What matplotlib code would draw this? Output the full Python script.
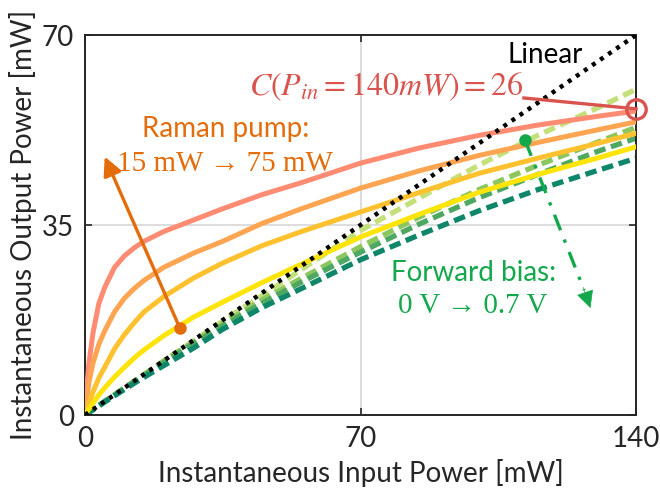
import matplotlib
matplotlib.use('Agg')
from matplotlib import pyplot as plt

# Data
# ===================================================================================================
p_in = [0, 0.5, 1, 2, 3.5, 5, 7.5, 10, 12.5, 15, 20, 27.5, 35, 45, 55, 70, 85, 100, 115, 130, 140]

# Raman pump curves (15 mW -> 75 mW), top to bottom
raman_75 = [0, 5.5, 9.5, 15, 20.5, 23.5, 27.2, 29.3, 30.8, 32, 33.8, 35.9, 38, 40.6, 42.8, 46.4, 49.2, 51.5, 53.4, 55, 56]
raman_55 = [0, 3.2, 6, 9.5, 13, 15.5, 19, 21.5, 23.3, 24.8, 27.2, 29.8, 32, 35.3, 38, 41.8, 45, 47.8, 50.2, 52.5, 54]
raman_35 = [0, 1.1, 2.2, 4.2, 6.8, 8.8, 12.2, 14.8, 17, 19, 21.8, 25.2, 28, 31.2, 33.8, 37.4, 41, 44.5, 47.3, 50, 51.9]
raman_15 = [0, 0.55, 1.1, 2.2, 3.7, 5.0, 7.0, 8.8, 10.5, 12.0, 14.6, 18.0, 20.8, 24.4, 27.8, 32.8, 37.0, 41.0, 44.3, 47.3, 49.4]

# Forward bias curves (0 V -> 0.7 V)
bias_0 = [0, 0.25, 0.5, 1, 1.75, 2.5, 3.75, 5, 6.25, 7.5, 10, 13.6, 17.3, 22, 26.8, 34, 40, 46, 51.5, 56.5, 60]
bias_1 = [0, 0.25, 0.5, 1, 1.75, 2.5, 3.7, 5, 6.2, 7.4, 9.9, 13.4, 16.8, 21.2, 25.2, 31, 36.5, 41.5, 46, 50.2, 53]
bias_2 = [0, 0.25, 0.5, 1, 1.7, 2.5, 3.7, 4.9, 6.1, 7.3, 9.7, 13.1, 16.4, 20.6, 24.5, 30, 35.2, 40, 44.3, 48.5, 51]
bias_3 = [0, 0.25, 0.5, 0.95, 1.65, 2.4, 3.55, 4.7, 5.85, 6.95, 9.1, 12.3, 15.8, 19.8, 23.3, 28.6, 33.2, 37.6, 41.5, 45, 47.3]

linear_x = [0, 140]
linear_y = [0, 70]

compression_value = 26
c_point = (140, 56.4)

raman_curves = [raman_75, raman_55, raman_35, raman_15]
raman_colors = ['#FF8C72', '#FFA552', '#FFC22E', '#FFE40A']
bias_curves = [bias_0, bias_1, bias_2, bias_3]
bias_colors = ['#C4E07A', '#8CC65E', '#4EA862', '#0E866A']

# Style
# ===================================================================================================
plt.rcParams['font.family'] = ['Lato', 'DejaVu Sans']
plt.rcParams['mathtext.fontset'] = 'stix'
plt.rcParams['axes.unicode_minus'] = False

fig = plt.figure(figsize=(6.6, 5.0), dpi=100)
ax = fig.add_axes([0.1288, 0.17, 0.835, 0.76])

# Curves
# ===================================================================================================
for y, c in zip(bias_curves, bias_colors):
    ax.plot(p_in, y, color=c, lw=3.8, linestyle=(0, (2.2, 1.1)), zorder=2)

for y, c in zip(raman_curves, raman_colors):
    ax.plot(p_in, y, color=c, lw=3.6, solid_capstyle='round', solid_joinstyle='round', zorder=3)

ax.plot(linear_x, linear_y, color='black', lw=3.2, linestyle=(0, (0.9, 1.3)), zorder=4)

# Axes setup
# ===================================================================================================
ax.set_xlim(0, 140)
ax.set_ylim(0, 70)
ax.set_xticks([0, 70, 140])
ax.set_yticks([0, 35, 70])
ax.grid(True, color='#DADADA', lw=1.3)
ax.set_axisbelow(True)
for s in ax.spines.values():
    s.set_color('#262626')
    s.set_linewidth(1.4)
ax.tick_params(direction='in', length=5, width=1.2, colors='#262626',
               top=True, right=True, labelsize=20, pad=8)
ax.set_xlabel('Instantaneous Input Power [mW]', fontsize=20, color='#262626', labelpad=5)
ax.set_ylabel('Instantaneous Output Power [mW]', fontsize=20, color='#262626', labelpad=3)

# Annotations
# ===================================================================================================
ax.text(117, 66.3, 'Linear', fontsize=20, ha='center', va='center', color='black', zorder=5)

red = '#D9534F'
ax.text(76.5, 60.4, r'$C(P_{in}=140mW)=%d$' % compression_value, fontsize=23,
        ha='center', va='center', color=red, zorder=5)
ax.plot([111.5, c_point[0]], [58.4, c_point[1]], color=red, lw=2.4, zorder=6, clip_on=False)
ax.plot(c_point[0], c_point[1], 'o', ms=14, mfc='none', mec=red, mew=2.4, zorder=6, clip_on=False)

orange = '#E46C0A'
ax.text(35.6, 52.6, 'Raman pump:', fontsize=20, ha='center', va='center', color=orange)
ax.text(35.6, 46.2, '15 mW \u2192 75 mW', fontsize=21, ha='center', va='center', color=orange,
        family=['Liberation Serif', 'DejaVu Serif'])
ax.annotate('', xy=(5.0, 47.6), xytext=(24.1, 16.0),
            arrowprops=dict(arrowstyle='-|>', color=orange, lw=2.4, mutation_scale=28,
                            shrinkA=0, shrinkB=0), zorder=7)
ax.plot(24.1, 16.0, 'o', ms=8, color=orange, zorder=7)

green = '#13A84B'
ax.text(98.6, 26.1, 'Forward bias:', fontsize=20, ha='center', va='center', color=green)
ax.text(98.6, 20.0, '0 V \u2192 0.7 V', fontsize=21, ha='center', va='center', color=green,
        family=['Liberation Serif', 'DejaVu Serif'])
ax.plot([111.8, 126.8], [50.6, 23.0], color=green, lw=2.4, linestyle=(0, (5, 3, 1, 3)), zorder=7)
ax.annotate('', xy=(128.4, 19.7), xytext=(126.6, 23.5),
            arrowprops=dict(arrowstyle='-|>', color=green, lw=0.5, mutation_scale=28,
                            shrinkA=0, shrinkB=0), zorder=7)
ax.plot(111.8, 50.6, 'o', ms=8, color=green, zorder=7)

plt.savefig('out.png', dpi=100)
